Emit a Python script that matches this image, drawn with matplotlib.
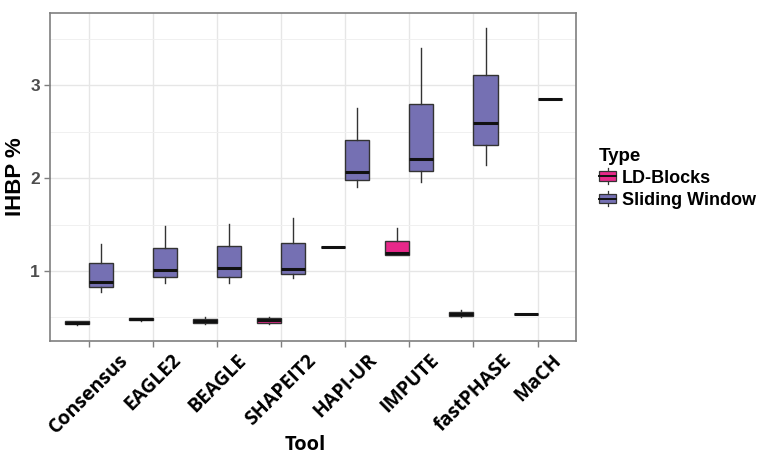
import matplotlib.pyplot as plt
from matplotlib.patches import Patch, Rectangle
from matplotlib.lines import Line2D
from matplotlib.legend_handler import HandlerBase
from matplotlib.ticker import MultipleLocator

tools = ["Consensus", "EAGLE2", "BEAGLE", "SHAPEIT2", "HAPI-UR", "IMPUTE", "fastPHASE", "MaCH"]

# five-number summaries per tool: (low whisker, q1, median, q3, high whisker)
ld_blocks = [
    (0.42, 0.43, 0.44, 0.46, 0.46),
    (0.46, 0.47, 0.48, 0.49, 0.49),
    (0.43, 0.44, 0.46, 0.48, 0.50),
    (0.43, 0.44, 0.47, 0.49, 0.505),
    (1.26, 1.26, 1.26, 1.26, 1.26),
    (1.175, 1.175, 1.19, 1.325, 1.465),
    (0.50, 0.515, 0.535, 0.56, 0.58),
    (0.54, 0.54, 0.54, 0.54, 0.54),
]
sliding_window = [
    (0.77, 0.825, 0.88, 1.086, 1.29),
    (0.87, 0.94, 1.01, 1.25, 1.48),
    (0.87, 0.94, 1.03, 1.265, 1.51),
    (0.925, 0.97, 1.025, 1.30, 1.57),
    (1.90, 1.98, 2.065, 2.415, 2.76),
    (1.96, 2.08, 2.21, 2.80, 3.40),
    (2.14, 2.36, 2.59, 3.11, 3.62),
    (2.85, 2.85, 2.85, 2.85, 2.85),
]

types = ["LD-Blocks", "Sliding Window"]
colors = {"LD-Blocks": "#E7298A", "Sliding Window": "#7570B3"}
series = {"LD-Blocks": ld_blocks, "Sliding Window": sliding_window}
offsets = {"LD-Blocks": -0.1875, "Sliding Window": 0.1875}
edge = "#333333"


class BoxKey(HandlerBase):
    # small boxplot glyph like ggplot's legend key
    def create_artists(self, legend, orig, xd, yd, w, h, fontsize, trans):
        cx = xd + w / 2
        box = Rectangle((xd, yd + h * 0.15), w, h * 0.7, facecolor=orig.get_facecolor(),
                        edgecolor=edge, linewidth=0.9, transform=trans)
        whisk = Line2D([cx, cx], [yd - h * 0.1, yd + h * 1.1], color=edge, linewidth=0.9, transform=trans)
        med = Line2D([xd, xd + w], [yd + h * 0.5] * 2, color="#111111", linewidth=1.4, transform=trans)
        return [whisk, box, med]


plt.rcParams['font.family'] = ['Liberation Sans', 'DejaVu Sans']

fig = plt.figure(figsize=(7.65, 4.57), dpi=100)
ax = fig.add_axes([0.066, 0.2545, 0.687, 0.7175])

for t in types:
    stats = []
    for s in series[t]:
        stats.append({"whislo": s[0], "q1": s[1], "med": s[2], "q3": s[3], "whishi": s[4]})
    pos = [i + 1 + offsets[t] for i in range(len(tools))]
    ax.bxp(stats, positions=pos, widths=0.375, patch_artist=True,
           showfliers=False, showcaps=False,
           boxprops=dict(facecolor=colors[t], edgecolor=edge, linewidth=1.0),
           whiskerprops=dict(color=edge, linewidth=1.0),
           medianprops=dict(color="#111111", linewidth=2.2, solid_capstyle="butt"),
           zorder=3)

ax.set_xlim(0.4, 8.6)
ax.set_ylim(0.25, 3.78)
ax.set_xticks(range(1, len(tools) + 1))
ax.set_xticklabels(tools, rotation=45, ha="center", va="top",
                   fontsize=14, fontweight="bold", family=["Open Sans", "DejaVu Sans"])
ax.set_yticks([1, 2, 3])
ax.set_yticklabels(["1", "2", "3"], fontsize=12.5, fontweight="bold", color="#4d4d4d")
ax.yaxis.set_minor_locator(MultipleLocator(0.5))
ax.tick_params(axis="y", which="minor", length=0)
ax.tick_params(axis="both", which="major", length=4, color="#7f7f7f", width=1)
ax.tick_params(axis="x", pad=3)

ax.grid(True, which="major", color="#e6e6e6", linewidth=1.0, zorder=0)
ax.grid(True, which="minor", axis="y", color="#f0f0f0", linewidth=0.7, zorder=0)
ax.set_axisbelow(True)
for sp in ax.spines.values():
    sp.set_color("#7f7f7f")
    sp.set_linewidth(1.2)

fig.text(0.399, 0.026, "Tool", ha="center", va="center", fontsize=14.5, fontweight="bold",
         family=["Open Sans", "DejaVu Sans"])
ax.set_ylabel("IHBP %", fontsize=16, fontweight="bold", labelpad=3)

handles = [Patch(facecolor=colors[t], edgecolor=edge, label=t) for t in types]
leg = fig.legend(handles=handles, title="Type", loc="upper left",
                 bbox_to_anchor=(0.783, 0.677), frameon=False,
                 handler_map={Patch: BoxKey()},
                 prop={"weight": "bold", "size": 13}, handlelength=0.95, handleheight=0.75,
                 handletextpad=0.3, labelspacing=0.3, borderaxespad=0, borderpad=0)
leg.get_title().set_fontweight("bold")
leg.get_title().set_fontsize(13.5)
leg._legend_box.align = "left"

fig.savefig("out.png", dpi=100)
